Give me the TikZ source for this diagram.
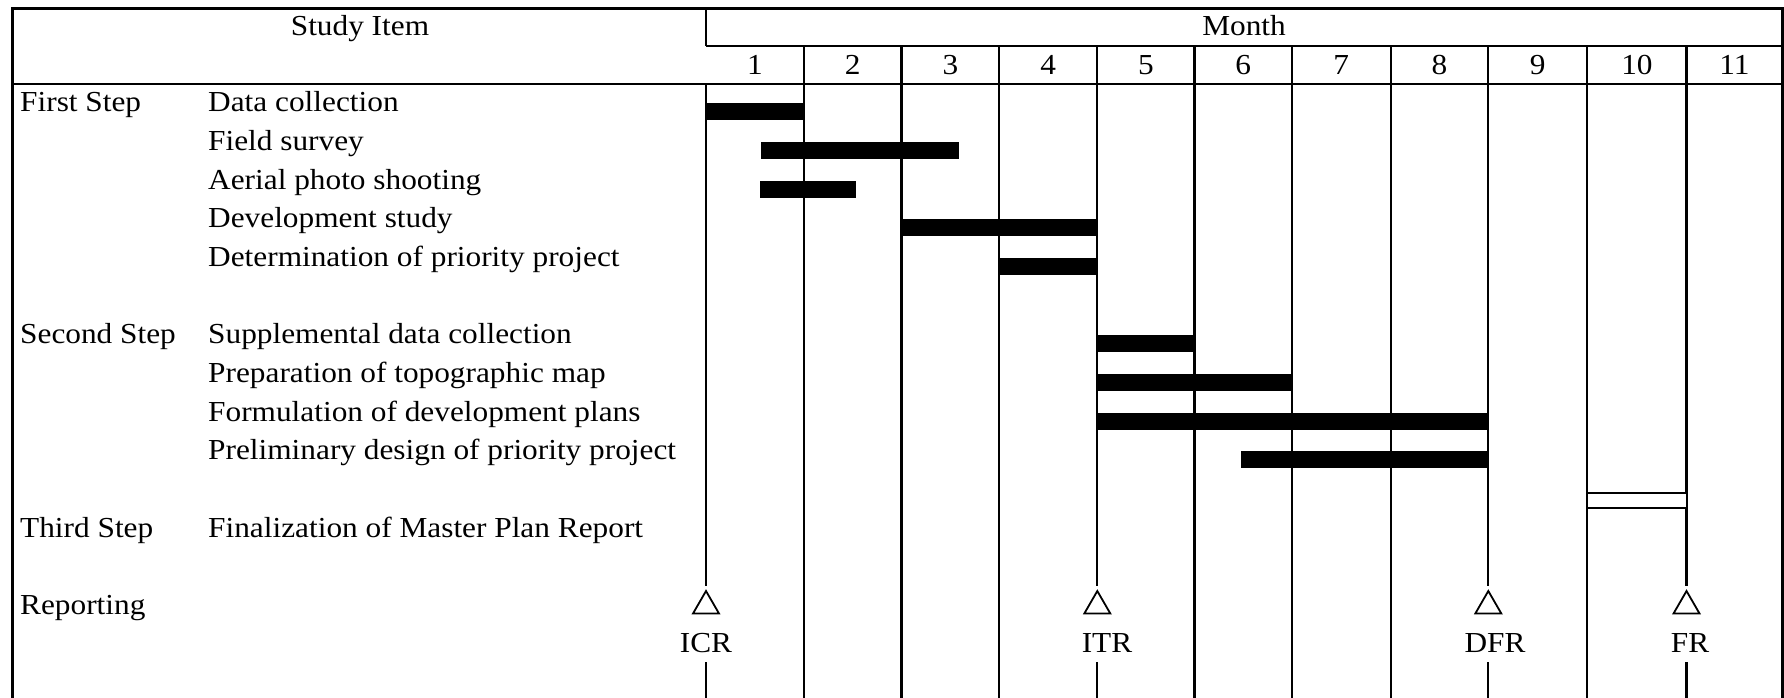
\documentclass[tikz,border=0pt]{standalone}
\usepackage{fontspec}
\setmainfont[FakeStretch=1.08]{Liberation Serif}
\usetikzlibrary{shapes.geometric}
\begin{document}
\begin{tikzpicture}[x=1pt,y=-1pt,
  txt/.style={inner sep=0pt,font=\fontsize{29}{34}\selectfont},
  border/.style={line width=2.6pt},
  colline/.style={line width=2.2pt},
  bar/.style={fill=black,draw=none},
  hollowbar/.style={draw=black,fill=white,line width=1.8pt},
  milestone/.style={draw,line width=1.8pt,regular polygon,regular polygon sides=3,minimum size=30pt,inner sep=0pt}]
\useasboundingbox (0,0) rectangle (1784,698);
\fill[white] (0,0) rectangle (1784,698);
% column coordinates
\foreach \i/\x in {0/706,1/804,2/901.5,3/999.3,4/1097.3,5/1194.5,6/1292,7/1390.7,8/1488.3,9/1587.3,10/1686.5,11/1782.5}{
  \coordinate (top\i) at (\x,46);
  \coordinate (gapa\i) at (\x,586);
  \coordinate (gapb\i) at (\x,662);
  \coordinate (bot\i) at (\x,698);
}
% borders and header grid
\draw[border] (12.7,698) -- (12.7,8.5) -- (1782.5,8.5) -- (1782.5,698);
\draw[border] (12.7,84) -- (1782.5,84);
\draw[colline] (706,46) -- (1782.5,46);
\draw[colline] (706,8.5) -- (706,46);
% plain column lines
\foreach \i in {1,2,3,5,6,7,9}{
  \draw[colline] (top\i) -- (bot\i);
}
% header texts
\node[txt,anchor=base] (hstudy) at (360,36) {Study Item};
\node[txt,anchor=base] (hmonth) at (1244,36) {Month};
\foreach \n/\x in {1/755,2/852.7,3/950.4,4/1048.3,5/1145.9,6/1243.2,7/1341.3,8/1439.5,9/1537.8,10/1636.9,11/1734.5}{
  \node[txt,anchor=base] (m\n) at (\x,74.5) {\n};
}
% left column texts
\node[txt,anchor=base west] (s1) at (20,111.7) {First Step};
\node[txt,anchor=base west] (i1) at (208,111.7) {Data collection};
\node[txt,anchor=base west] (i2) at (208,150.4) {Field survey};
\node[txt,anchor=base west] (i3) at (208,189) {Aerial photo shooting};
\node[txt,anchor=base west] (i4) at (208,227.6) {Development study};
\node[txt,anchor=base west] (i5) at (208,266.3) {Determination of priority project};
\node[txt,anchor=base west] (s2) at (20,343.6) {Second Step};
\node[txt,anchor=base west] (i6) at (208,343.6) {Supplemental data collection};
\node[txt,anchor=base west] (i7) at (208,382.3) {Preparation of topographic map};
\node[txt,anchor=base west] (i8) at (208,421) {Formulation of development plans};
\node[txt,anchor=base west] (i9) at (208,459.6) {Preliminary design of priority project};
\node[txt,anchor=base west] (s3) at (20,537) {Third Step};
\node[txt,anchor=base west] (i10) at (208,537) {Finalization of Master Plan Report};
\node[txt,anchor=base west] (s4) at (20,614.3) {Reporting};
% bars
\fill[bar] (706,103.2) rectangle (804,120.2);
\fill[bar] (760.5,141.9) rectangle (959.3,158.9);
\fill[bar] (760,180.5) rectangle (856,197.5);
\fill[bar] (902,219.1) rectangle (1097.3,236.1);
\fill[bar] (999.3,257.8) rectangle (1097.3,274.8);
\fill[bar] (1097.3,335.1) rectangle (1194,352.1);
\fill[bar] (1097.3,373.8) rectangle (1292,390.8);
\fill[bar] (1097.3,412.5) rectangle (1488.3,429.5);
\fill[bar] (1241.3,451.1) rectangle (1488.3,468.1);
% milestones
\foreach \i/\name/\lab/\lx in {0/icr/ICR/706,4/itr/ITR/1107,8/dfr/DFR/1495,10/fr/FR/1690}{
  \path (top\i) ++(0,560) node[milestone] (tri\name) {};
  \node[txt,anchor=base] (lab\name) at (\lx,652) {\lab};
  \draw[colline] (gapb\i) -- (bot\i);
}
\draw[colline] (706,84) -- (gapa0);
\draw[colline] (top4) -- (gapa4);
\draw[colline] (top8) -- (gapa8);
\draw[colline] (top10) -- (gapa10);
% hollow bar (Finalization)
\draw[hollowbar] (1587.3,493.3) rectangle (1686.5,508.3);
\end{tikzpicture}
\end{document}
